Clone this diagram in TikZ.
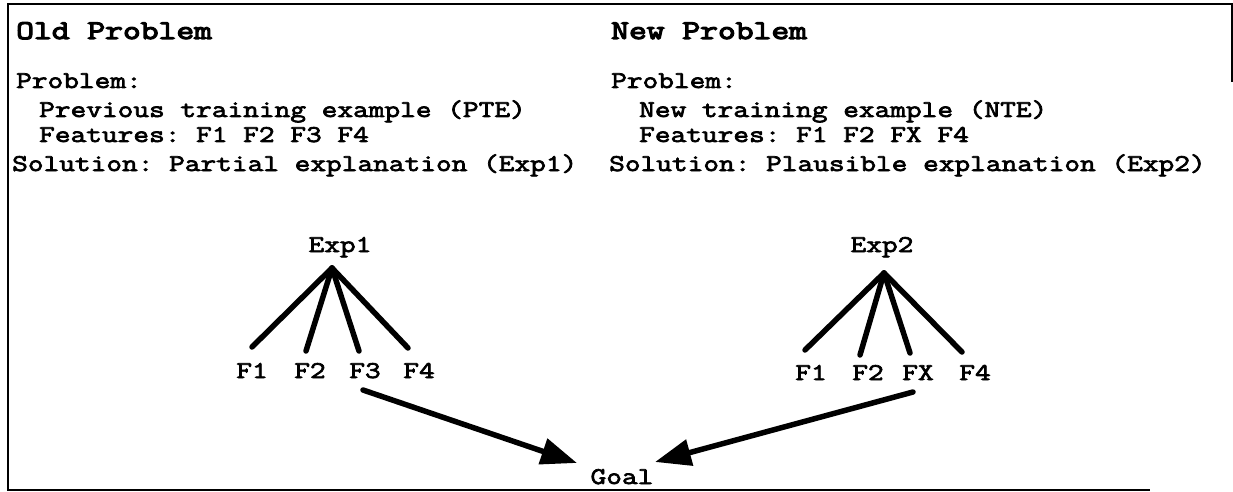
\documentclass[tikz,border=0pt]{standalone}
\usepackage{fontspec}
\newfontfamily\headfont{Latin Modern Mono}[FakeBold=4.5,FakeStretch=1.28]
\newfontfamily\bodyfont{Latin Modern Mono}[FakeBold=3,FakeStretch=1.27]
\usetikzlibrary{arrows.meta}
\begin{document}
\frenchspacing
\begin{tikzpicture}[x=1pt,y=-1pt,
  txt/.style={anchor=base west,inner sep=0pt,font=\bodyfont\fontsize{24}{24}\selectfont},
  head/.style={anchor=base west,inner sep=0pt,font=\headfont\fontsize{27}{27}\selectfont},
  lbl/.style={anchor=base,inner sep=0pt,font=\bodyfont\fontsize{24}{24}\selectfont},
  branch/.style={line width=5.5pt,line cap=round},
  link/.style={line width=5.5pt,line cap=round,-{Triangle[length=36pt,width=26pt]}},
  frame/.style={line width=2.5pt}]
\useasboundingbox (0,0) rectangle (1233,492);
% border
\draw[frame] (1232,82) -- (1232,4) -- (8,4) -- (8,490) -- (1150,490);
% left column
\node[head] (oldt) at (16,39) {Old Problem};
\node[txt] (oldp) at (16,88) {Problem:};
\node[txt] (oldx) at (39,117) {Previous training example (PTE)};
\node[txt] (oldf) at (39,142) {Features: F1 F2 F3 F4};
\node[txt] (olds) at (12,171) {Solution: Partial explanation (Exp1)};
% right column
\node[head] (newt) at (611,39) {New Problem};
\node[txt] (newp) at (611,88) {Problem:};
\node[txt] (newx) at (639,117) {New training example (NTE)};
\node[txt] (newf) at (639,142) {Features: F1 F2 FX F4};
\node[txt] (news) at (609,171) {Solution: Plausible explanation (Exp2)};
% left explanation tree
\node[lbl] (e1) at (340,252) {Exp1};
\coordinate (a1) at (332,268);
\node[lbl] (l1) at (252,378) {F1};
\node[lbl] (l2) at (310,378) {F2};
\node[lbl] (l3) at (365,378) {F3};
\node[lbl] (l4) at (419,378) {F4};
\draw[branch] (a1) -- ([shift={(0pt,31pt)}]l1.base);
\draw[branch] (a1) -- ([shift={(-4pt,27pt)}]l2.base);
\draw[branch] (a1) -- ([shift={(-6pt,27pt)}]l3.base);
\draw[branch] (a1) -- ([shift={(-11pt,30pt)}]l4.base);
% right explanation tree
\node[lbl] (e2) at (882,252) {Exp2};
\coordinate (a2) at (884,273);
\node[lbl] (r1) at (811,380) {F1};
\node[lbl] (r2) at (868,380) {F2};
\node[lbl] (r3) at (918,380) {FX};
\node[lbl] (r4) at (975,380) {F4};
\draw[branch] (a2) -- ([shift={(-6pt,30pt)}]r1.base);
\draw[branch] (a2) -- ([shift={(-8pt,25pt)}]r2.base);
\draw[branch] (a2) -- ([shift={(-8pt,27pt)}]r3.base);
\draw[branch] (a2) -- ([shift={(-13pt,28pt)}]r4.base);
% goal and mapping arrows
\node[lbl] (goal) at (622,484) {Goal};
\draw[link] ([shift={(-2pt,-12pt)}]l3.base) -- ([shift={(-45pt,21pt)}]goal.base);
\draw[link] ([shift={(-5pt,-12pt)}]r3.base) -- ([shift={(33pt,22pt)}]goal.base);
\end{tikzpicture}
\end{document}
